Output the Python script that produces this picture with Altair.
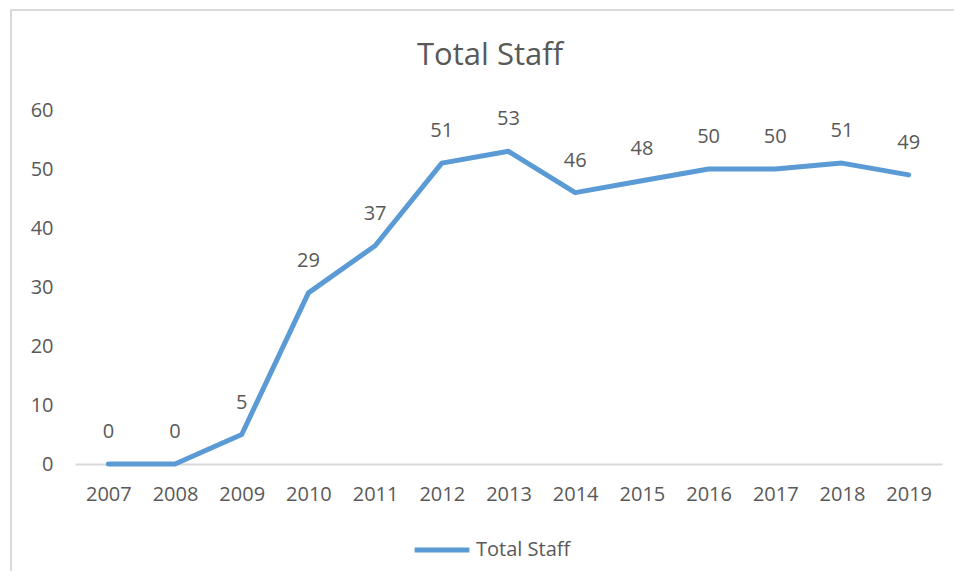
import altair as alt
import pandas as pd

years = ["2007", "2008", "2009", "2010", "2011", "2012", "2013",
         "2014", "2015", "2016", "2017", "2018", "2019"]
staff = [0, 0, 5, 29, 37, 51, 53, 46, 48, 50, 50, 51, 49]
series = ["Total Staff"] * len(years)
chart_title = ["Total Staff"]

df = pd.DataFrame({"Year": years, "Staff": staff, "Series": series})
tdf = pd.DataFrame({"t": chart_title})

FONT = "Open Sans"
GREY = "#595959"
BLUE = "#5B9BD5"

W, H = 867, 354
PAD_L, PAD_T = 67, 102
PAD_R = 946 - PAD_L - W
PAD_B = 563 - PAD_T - H

x_enc = alt.X("Year:O", sort=years, scale=alt.Scale(paddingInner=0, paddingOuter=0.5),
              axis=alt.Axis(title=None, labelAngle=0, labelFont=FONT, labelFontSize=20,
                            labelColor=GREY, ticks=False, domainColor="#d9d9d9",
                            domainWidth=2, labelPadding=20, grid=False))
y_enc = alt.Y("Staff:Q", scale=alt.Scale(domain=[0, 60]),
              axis=alt.Axis(title=None, values=[0, 10, 20, 30, 40, 50, 60],
                            labelFont=FONT, labelFontSize=20, labelColor=GREY,
                            ticks=False, domain=False, grid=False, labelPadding=22))

frame = alt.Chart(df).mark_rect(filled=False, stroke="#d9d9d9", strokeWidth=2).encode(
    x=alt.value(-64), x2=alt.value(W + 200),
    y=alt.value(-100), y2=alt.value(H + 300)
)

title = alt.Chart(tdf).mark_text(font=FONT, fontSize=31, color=GREY,
                                 baseline="middle", align="center").encode(
    x=alt.value(415), y=alt.value(-54), text="t:N"
)

line = alt.Chart(df).mark_line(strokeWidth=5, strokeCap="round", strokeJoin="round").encode(
    x=x_enc, y=y_enc,
    color=alt.Color("Series:N", scale=alt.Scale(range=[BLUE]),
                    legend=alt.Legend(title=None, orient="none", legendX=337, legendY=410,
                                      symbolType="stroke", symbolSize=3000,
                                      symbolStrokeWidth=5, labelFont=FONT,
                                      labelFontSize=20, labelColor=GREY, labelOffset=4))
)

labels = alt.Chart(df).mark_text(font=FONT, fontSize=20, color=GREY, dy=-26,
                                 baseline="alphabetic").encode(
    x=alt.X("Year:O", sort=years), y="Staff:Q", text="Staff:Q"
)

chart = alt.layer(frame, title, line, labels).properties(
    width=W, height=H,
    autosize=alt.AutoSizeParams(type="none"),
    padding={"left": PAD_L, "top": PAD_T, "right": PAD_R, "bottom": PAD_B},
).configure_view(stroke=None)

chart.save("out.html", embed_options={"renderer": "svg", "actions": False})
